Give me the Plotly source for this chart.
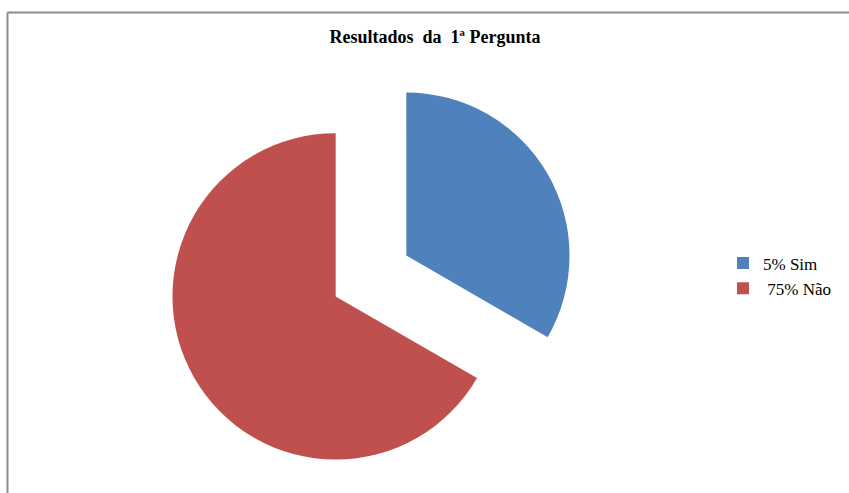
import plotly.graph_objects as go

labels = ["5% Sim", " 75% Não"]
values = [1, 2]
colors = ["#4F81BD", "#C0504D"]
pulls = [0.25, 0.25]

W, H = 849, 493
fig = go.Figure(go.Pie(
    labels=labels, values=values, sort=False, direction="clockwise", rotation=0,
    marker=dict(colors=colors, line=dict(width=0)),
    pull=pulls, textinfo="none", hoverinfo="label+percent",
    domain=dict(x=[167 / W, 575 / W], y=[13 / H, 421 / H]),
))
fig.update_layout(
    width=W, height=H, margin=dict(l=0, r=0, t=0, b=0),
    paper_bgcolor="white",
    font=dict(family="Liberation Serif, Times New Roman, serif", color="#000000"),
    title=dict(text="<b>Resultados  da  1ª Pergunta</b>", x=435 / W, xanchor="center",
               y=1 - 37 / H, yanchor="middle", font=dict(size=18)),
    legend=dict(x=723 / W, y=1 - 276 / H, xanchor="left", yanchor="middle",
                font=dict(size=17), itemwidth=30, tracegroupgap=0),
    shapes=[
        dict(type="line", xref="paper", yref="paper", x0=7.5 / W, x1=1, y0=1 - 12.5 / H, y1=1 - 12.5 / H,
             line=dict(color="#8C8C8C", width=2)),
        dict(type="line", xref="paper", yref="paper", x0=7.5 / W, x1=7.5 / W, y0=0, y1=1 - 12.5 / H,
             line=dict(color="#8C8C8C", width=2)),
    ],
)
fig.write_html("out.html", config=dict(displayModeBar=False),
               post_script="document.body.style.margin='0';document.body.style.overflow='hidden';")
